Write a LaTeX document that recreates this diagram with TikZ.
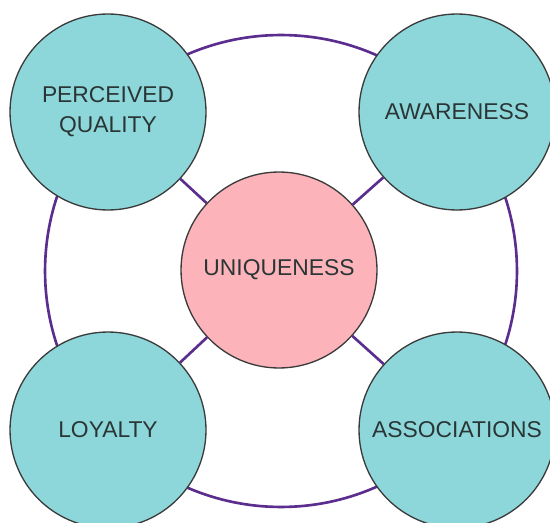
\documentclass[tikz,border=0pt]{standalone}
\usepackage{fontspec}
\setmainfont{Liberation Sans}
\usepackage{xcolor}
\usepackage{tikz}
\usetikzlibrary{
  positioning,
  calc
}
\definecolor{bvTeal}{HTML}{8DD7DA}
\definecolor{bvPink}{HTML}{FCB3BA}
\definecolor{bvRing}{HTML}{5A2D8E}
\definecolor{bvEdge}{HTML}{3A3A3A}
\definecolor{bvText}{HTML}{2A3536}
\tikzset{
  bvnode/.style={
    circle, draw=bvEdge, line width=0.75pt, minimum size=3.92cm, inner sep=0pt,
    font=\fontsize{13}{17}\selectfont, text=bvText, align=center
  },
  pillar/.style={bvnode, fill=bvTeal},
  core/.style={bvnode, fill=bvPink},
  ring/.style={line width=1.5pt, bvRing},
  spoke/.style={line width=1.5pt, bvRing}
}

\begin{document}
\begin{tikzpicture}[x=0.02cm, y=-0.02cm]
  \clip (0,0) rectangle (550,523);
  \fill[white] (0,0) rectangle (550,523);
  \coordinate (mid) at (281,271);
  \draw[ring] (mid) circle[radius=4.72cm];
  \node[core] (uniq) at (279,270) {UNIQUENESS};
  \node[pillar] (qual) at (108,112) {PERCEIVED\\QUALITY};
  \node[pillar] (aware) at (457,112) {AWARENESS};
  \node[pillar] (loyal) at (108,430) {LOYALTY};
  \node[pillar] (assoc) at (457,430) {ASSOCIATIONS};
  \foreach \n in {qual,aware,loyal,assoc}
    \draw[spoke] (uniq) -- (\n);
\end{tikzpicture}
\end{document}
